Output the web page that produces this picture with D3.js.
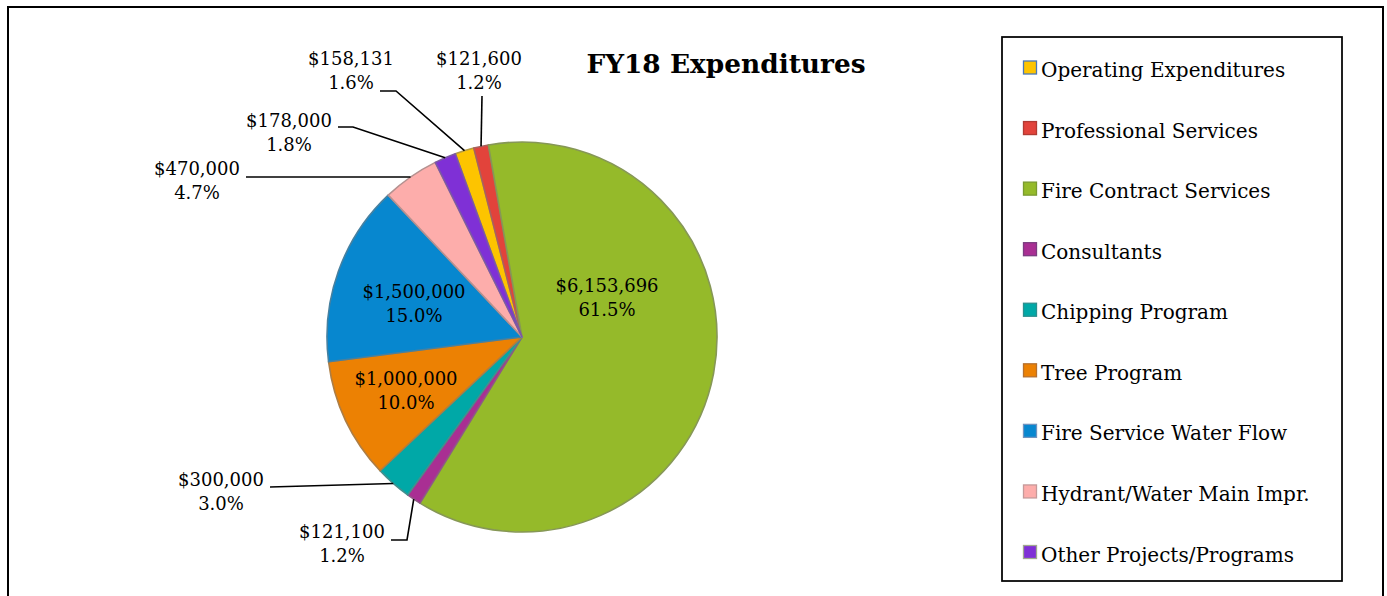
<!DOCTYPE html>
<html>
<head>
<meta charset="utf-8">
<script src="https://cdn.jsdelivr.net/npm/d3@7"></script>
<style>
  html, body { margin: 0; padding: 0; background: #fff; }
  svg { display: block; }
  text { font-family: "DejaVu Serif", "Liberation Serif", serif; fill: #000; }
</style>
</head>
<body>
<svg id="chart" width="1387" height="596"></svg>
<script>
// ---- data ----
const categories = [
  "Operating Expenditures",
  "Professional Services",
  "Fire Contract Services",
  "Consultants",
  "Chipping Program",
  "Tree Program",
  "Fire Service Water Flow",
  "Hydrant/Water Main Impr.",
  "Other Projects/Programs"
];
const values = [158131, 121600, 6153696, 121100, 300000, 1000000, 1500000, 470000, 178000];
const title = "FY18 Expenditures";

// ---- styles ----
const colors = ["#FDC400", "#E2433B", "#95BA2A", "#A92F93", "#00A8A7", "#EC8103", "#0787CF", "#FDADAB", "#7F30D6"];
const swatchStrokes = ["#4A78B8", "#B03A33", "#7A9A30", "#7A3D80", "#2C8E8E", "#B5702E", "#6F93BF", "#C59A9A", "#A0A890"];

// ---- layout (label anchor: centre x, first baseline y; leader elbow points) ----
const labelLayout = [
  { x: 351, y: 65,  inside: false, leader: [[380, 91], [396, 91]] },
  { x: 479, y: 65,  inside: false, leader: [[482, 96]] },
  { x: 607, y: 292, inside: true },
  { x: 342, y: 538, inside: false, leader: [[391, 540], [407, 540]] },
  { x: 221, y: 486, inside: false, leader: [[270, 487]] },
  { x: 406, y: 385, inside: true },
  { x: 414, y: 298, inside: true },
  { x: 197, y: 175, inside: false, leader: [[246, 177]] },
  { x: 289, y: 127, inside: false, leader: [[338, 127], [353, 127]] }
];

const W = 1387, H = 596;
const cx = 522, cy = 337, R = 195;
const total = d3.sum(values);
const fmtMoney = v => "$" + d3.format(",")(v);
const fmtPct = d3.format(".1%");

const svg = d3.select("#chart");

// outer frame
svg.append("rect")
  .attr("x", 8).attr("y", 7).attr("width", 1375).attr("height", 620)
  .attr("fill", "none").attr("stroke", "#000").attr("stroke-width", 2);

// title
svg.append("text")
  .attr("x", 726).attr("y", 73)
  .attr("text-anchor", "middle")
  .attr("font-weight", "bold")
  .attr("font-size", 26.4)
  .text(title);

// pie
const startA = -20 * Math.PI / 180;
const pie = d3.pie().sort(null).value(d => d.value)
  .startAngle(startA).endAngle(startA + 2 * Math.PI);
const data = categories.map((c, i) => ({ name: c, value: values[i], i }));
const arcs = pie(data);
const arc = d3.arc().innerRadius(0).outerRadius(R);
const edgeArc = d3.arc().innerRadius(R).outerRadius(R);

const g = svg.append("g").attr("transform", `translate(${cx},${cy})`);
g.selectAll("path.slice").data(arcs).enter().append("path")
  .attr("class", "slice")
  .attr("d", arc)
  .attr("fill", d => colors[d.data.i])
  .attr("stroke", d => d3.interpolateRgb(colors[d.data.i], "#7a7a7a")(0.55))
  .attr("stroke-width", 1.6)
  .attr("stroke-linejoin", "round");

// leader lines
arcs.forEach(d => {
  const L = labelLayout[d.data.i];
  if (L.inside) return;
  const p = edgeArc.centroid(d);
  const pts = L.leader.concat([[p[0] + cx, p[1] + cy]]);
  svg.append("path")
    .attr("d", d3.line()(pts))
    .attr("fill", "none")
    .attr("stroke", "#000")
    .attr("stroke-width", 1.6);
});

// data labels
arcs.forEach(d => {
  const L = labelLayout[d.data.i];
  const t = svg.append("text")
    .attr("text-anchor", "middle")
    .attr("font-size", 18);
  t.append("tspan").attr("x", L.x).attr("y", L.y).text(fmtMoney(d.data.value));
  t.append("tspan").attr("x", L.x).attr("y", L.y + 24).text(fmtPct(d.data.value / total));
});

// legend
svg.append("rect")
  .attr("x", 1002).attr("y", 37).attr("width", 340).attr("height", 544)
  .attr("fill", "#fff").attr("stroke", "#000").attr("stroke-width", 1.75);

const legendY = d3.scalePoint().domain(categories).range([67.5, 552]);
const lg = svg.append("g").selectAll("g").data(categories).enter().append("g")
  .attr("transform", c => `translate(0,${legendY(c)})`);
lg.append("rect")
  .attr("x", 1023.5).attr("y", -6.5).attr("width", 13).attr("height", 13)
  .attr("fill", (c, i) => colors[i])
  .attr("stroke", (c, i) => swatchStrokes[i])
  .attr("stroke-width", 1.3);
lg.append("text")
  .attr("x", 1041).attr("y", 9.5)
  .attr("font-size", 20)
  .text(c => c);
</script>
</body>
</html>
